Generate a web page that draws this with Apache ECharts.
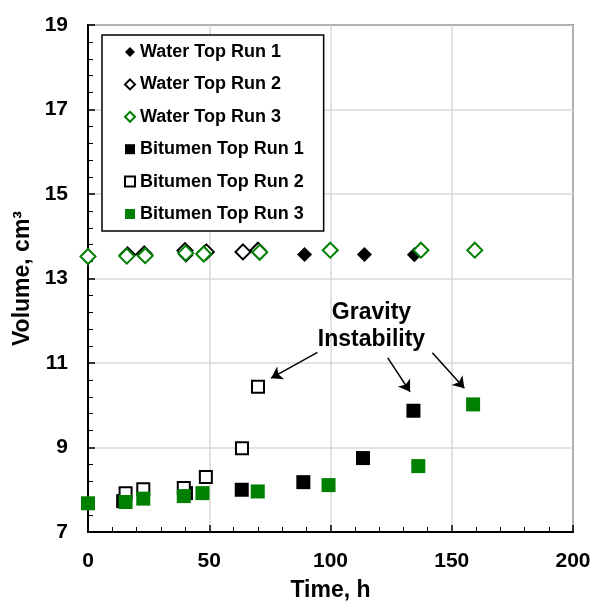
<!DOCTYPE html>
<html>
<head>
<meta charset="utf-8">
<script src="https://cdn.jsdelivr.net/npm/echarts@6/dist/echarts.min.js"></script>
<style>
  html, body { margin: 0; padding: 0; background: #fff; }
  #chart { width: 595px; height: 601px; }
</style>
</head>
<body>
<div id="chart"></div>
<script>
// Measured volumes (cm³) against elapsed time (h) for each run
const waterRun1Time = [40.4, 89.3, 114.0, 134.6];
const waterRun1Vol  = [13.55, 13.57, 13.57, 13.56];

const waterRun2Time = [16.3, 23.2, 40.0, 48.8, 63.9, 70.1];
const waterRun2Vol  = [13.56, 13.58, 13.66, 13.63, 13.63, 13.67];

const waterRun3Time = [0, 16.0, 23.6, 40.3, 47.7, 70.8, 99.9, 137.3, 159.5];
const waterRun3Vol  = [13.52, 13.53, 13.54, 13.60, 13.58, 13.62, 13.67, 13.67, 13.67];

const bitRun1Time = [14.5, 40.4, 63.4, 88.8, 113.4, 134.2];
const bitRun1Vol  = [7.73, 7.92, 8.00, 8.18, 8.75, 9.87];

const bitRun2Time = [15.5, 22.8, 39.5, 48.6, 63.5, 70.1];
const bitRun2Vol  = [7.92, 8.01, 8.04, 8.30, 8.98, 10.44];

const bitRun3Time = [0, 15.5, 22.8, 39.5, 47.2, 70.0, 99.2, 136.2, 158.8];
const bitRun3Vol  = [7.68, 7.71, 7.79, 7.85, 7.92, 7.96, 8.11, 8.56, 10.02];

const seriesNames = [
  'Water Top Run 1', 'Water Top Run 2', 'Water Top Run 3',
  'Bitumen Top Run 1', 'Bitumen Top Run 2', 'Bitumen Top Run 3'
];

const xTicks = { min: 0, max: 200, step: 50 };
const yTicks = { min: 7, max: 19, step: 2 };

// Callout text and arrow endpoints in data units
const calloutText = 'Gravity\nInstability';
const calloutAt = [116.9, 11.87];
const calloutArrows = [
  [[94.6, 11.25], [75.5, 10.64]],
  [[123.6, 11.12], [132.8, 10.32]],
  [[142.0, 11.24], [155.2, 10.40]]
];

const zip = (xs, ys) => xs.map((x, i) => [x, ys[i]]);
const FONT = 'Liberation Sans, Arial, sans-serif';
const GREEN = '#008000';

function scatter(name, xs, ys, symbol, size, itemStyle) {
  return {
    name, type: 'scatter', data: zip(xs, ys),
    symbol, symbolSize: size, itemStyle: Object.assign({ opacity: 1 }, itemStyle), clip: false,
    emphasis: { disabled: true }
  };
}

const chart = echarts.init(document.getElementById('chart'), null, { renderer: 'canvas' });

chart.setOption({
  animation: false,
  backgroundColor: '#fff',
  grid: {
    left: 88, right: 22, top: 25, bottom: 69,
    containLabel: false, outerBoundsMode: 'none',
    show: true, borderColor: '#000', borderWidth: 1.5, backgroundColor: 'transparent'
  },
  legend: {
    orient: 'vertical',
    left: 102, top: 35,
    padding: [7, 20, 7, 22],
    backgroundColor: '#fff',
    borderColor: '#000', borderWidth: 1.5,
    itemWidth: 10, itemHeight: 10, itemGap: 12.4,
    selectedMode: false,
    textStyle: { fontFamily: FONT, fontWeight: 'bold', fontSize: 18, color: '#000', lineHeight: 20 },
    data: seriesNames
  },
  xAxis: {
    type: 'value',
    min: xTicks.min, max: xTicks.max, interval: xTicks.step,
    name: 'Time, h', nameLocation: 'middle', nameGap: 47,
    nameTextStyle: { fontFamily: FONT, fontWeight: 'bold', fontSize: 23, color: '#000' },
    axisLine: { show: true, lineStyle: { color: '#000', width: 2 } },
    axisTick: { show: true, inside: true, length: 7, lineStyle: { color: '#000', width: 1.5 } },
    minorTick: { show: true, splitNumber: 5, length: 5, lineStyle: { color: '#000', width: 1 } },
    axisLabel: { margin: 19, fontFamily: FONT, fontWeight: 'bold', fontSize: 21, color: '#000' },
    splitLine: { show: true, lineStyle: { color: '#d9d9d9', width: 1.5 } }
  },
  yAxis: {
    type: 'value',
    min: yTicks.min, max: yTicks.max, interval: yTicks.step,
    name: 'Volume, cm³', nameLocation: 'middle', nameGap: 46,
    nameTextStyle: { fontFamily: FONT, fontWeight: 'bold', fontSize: 23, color: '#000' },
    axisLine: { show: true, lineStyle: { color: '#000', width: 2 } },
    axisTick: { show: true, inside: true, length: 7, lineStyle: { color: '#000', width: 1.5 } },
    minorTick: { show: true, splitNumber: 5, length: 5, lineStyle: { color: '#000', width: 1 } },
    axisLabel: { margin: 20, fontFamily: FONT, fontWeight: 'bold', fontSize: 21, color: '#000' },
    splitLine: { show: true, lineStyle: { color: '#d9d9d9', width: 1.5 } }
  },
  series: [
    scatter(seriesNames[0], waterRun1Time, waterRun1Vol, 'diamond', 15, { color: '#000' }),
    scatter(seriesNames[1], waterRun2Time, waterRun2Vol, 'diamond', 15,
      { color: '#fff', borderColor: '#000', borderWidth: 2 }),
    scatter(seriesNames[2], waterRun3Time, waterRun3Vol, 'diamond', 15,
      { color: '#fff', borderColor: GREEN, borderWidth: 2 }),
    scatter(seriesNames[3], bitRun1Time, bitRun1Vol, 'rect', 14, { color: '#000' }),
    scatter(seriesNames[4], bitRun2Time, bitRun2Vol, 'rect', 12,
      { color: '#fff', borderColor: '#000', borderWidth: 2 }),
    scatter(seriesNames[5], bitRun3Time, bitRun3Vol, 'rect', 14, { color: GREEN }),
    {
      name: 'callout', type: 'scatter', data: [], silent: true,
      itemStyle: { color: '#000', opacity: 1 },
      markPoint: {
        symbol: 'circle', symbolSize: 0, silent: true,
        label: {
          show: true, position: 'inside', formatter: calloutText,
          fontFamily: FONT, fontWeight: 'bold', fontSize: 23, lineHeight: 27, color: '#000', align: 'center'
        },
        data: [{ coord: calloutAt }]
      },
      markLine: {
        silent: true, symbol: ['none', 'arrow'], symbolSize: 11,
        itemStyle: { color: '#000', opacity: 1 },
        lineStyle: { color: '#000', width: 1.5, type: 'solid', opacity: 1 },
        label: { show: false },
        data: calloutArrows.map(([a, b]) => [{ coord: a }, { coord: b }])
      }
    }
  ]
});
</script>
</body>
</html>
